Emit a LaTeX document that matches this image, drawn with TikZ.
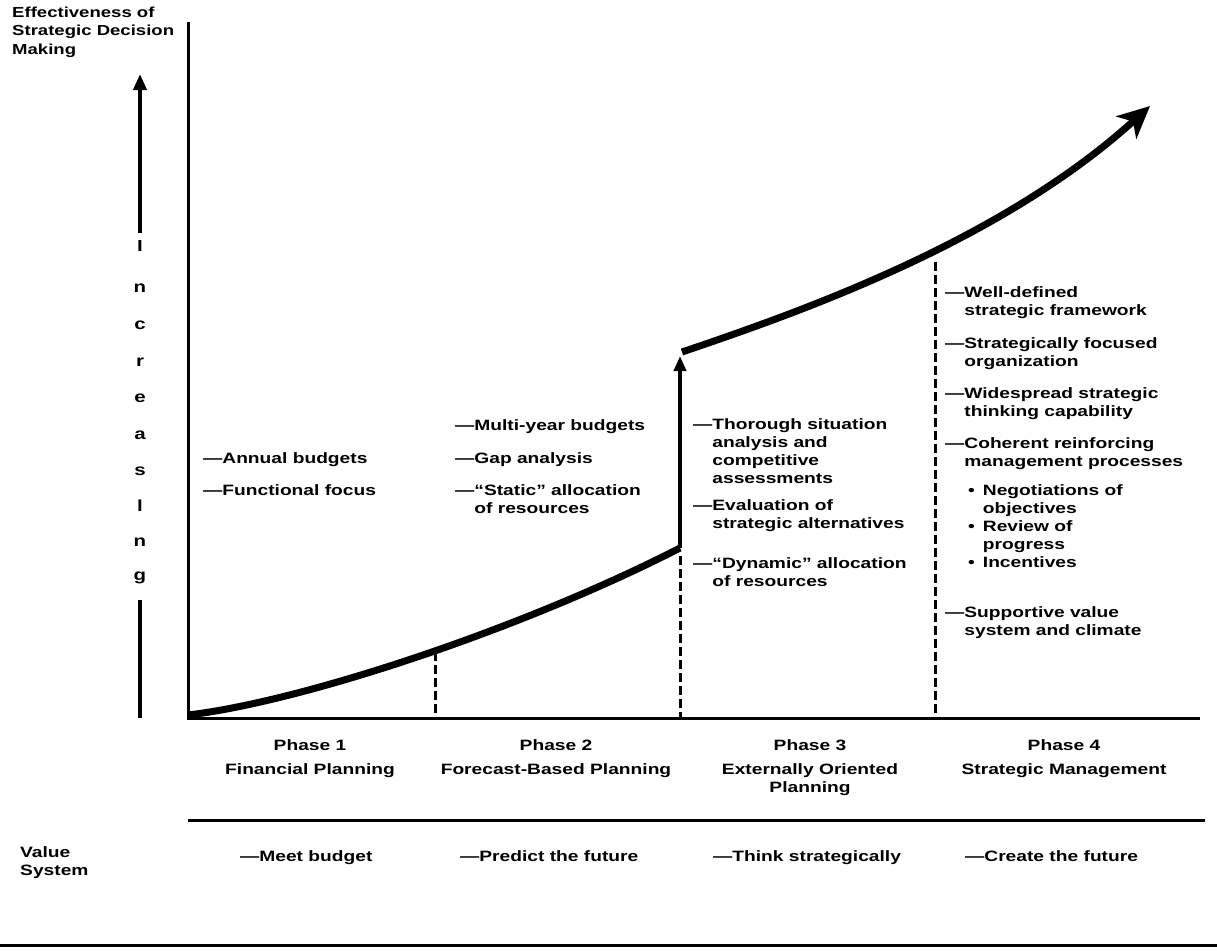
\documentclass[tikz,border=0pt]{standalone}
\usepackage{fontspec}
\setmainfont{Liberation Sans}[FakeStretch=1.28]
\usetikzlibrary{arrows.meta}
\begin{document}
\begin{tikzpicture}[x=1pt,y=-1pt,
  fnt/.style={font=\fontsize{15}{18}\selectfont\bfseries},
  lbl/.style={fnt,anchor=base west,inner sep=0},
  ctr/.style={fnt,anchor=base,inner sep=0},
  axis/.style={line width=3pt},
  rule/.style={line width=3pt},
  divider/.style={line width=3pt,dash pattern=on 9pt off 4pt},
  growth/.style={line width=7pt},
  letter/.style={font=\fontsize{16}{18}\selectfont\bfseries,anchor=center,inner sep=0}]
\useasboundingbox (0,0) rectangle (1217,951);
\fill[white] (0,0) rectangle (1217,951);

% y-axis label
\node[lbl] (ylab) at (12,17) {\fontsize{14.5}{18.5}\selectfont\begin{tabular}[t]{@{}l@{}}Effectiveness of\\Strategic Decision\\Making\end{tabular}};

% axes
\coordinate (O) at (188,718);
\coordinate (Ytop) at (188,22);
\coordinate (Xend) at (1200,718);
\draw[axis] (Ytop) -- (O) -- (Xend);

% "Increasing" arrow
\coordinate (Ia) at (140,233);
\coordinate (Ib) at (140,74);
\draw[line width=4.5pt,-{Triangle[length=16pt,width=13pt]}] (Ia) -- (Ib);
\foreach \c/\yy in {I/246,n/288,c/325,r/362,e/398,a/435,s/471,l/506,n/542,g/578}
  \node[letter] at (140,\yy) {\c};
\coordinate (Ic) at (140,600);
\coordinate (Id) at (140,718);
\draw[line width=4.5pt] (Ic) -- (Id);

% growth curve
\coordinate (G0) at (188,715);
\coordinate (J1) at (680,548);
\coordinate (J2) at (680,356);
\coordinate (G2) at (682,352);
\coordinate (Gend) at (1150,106);
\draw[growth] (G0) .. controls (300,702) and (520,630) .. (J1);
\draw[line width=4pt,-{Triangle[length=15pt,width=12pt]}] (J1) -- (J2);
\draw[growth,-{Stealth[length=32pt,width=30pt,inset=9pt]}] (G2) .. controls (800,312) and (1000,242) .. (Gend);

% phase dividers
\coordinate (D1) at (435,652);
\coordinate (D1b) at (435,718);
\coordinate (D2) at (680,556);
\coordinate (D2b) at (680,718);
\coordinate (D3) at (935,262);
\coordinate (D3b) at (935,718);
\draw[divider] (D1) -- (D1b);
\draw[divider] (D2) -- (D2b);
\draw[divider] (D3) -- (D3b);

% phase 1
\node[lbl] (p1a) at (203,463) {—Annual budgets};
\node[lbl] (p1b) at (203,495) {—Functional focus};
% phase 2
\node[lbl] (p2a) at (455,430) {—Multi-year budgets};
\node[lbl] (p2b) at (455,463) {—Gap analysis};
\node[lbl] (p2c) at (455,495) {\begin{tabular}[t]{@{}l@{}l@{}}—&``Static'' allocation\\&of resources\end{tabular}};
% phase 3
\node[lbl] (p3a) at (693,429) {\begin{tabular}[t]{@{}l@{}l@{}}—&Thorough situation\\&analysis and\\&competitive\\&assessments\end{tabular}};
\node[lbl] (p3b) at (693,510) {\begin{tabular}[t]{@{}l@{}l@{}}—&Evaluation of\\&strategic alternatives\end{tabular}};
\node[lbl] (p3c) at (693,568) {\begin{tabular}[t]{@{}l@{}l@{}}—&``Dynamic'' allocation\\&of resources\end{tabular}};
% phase 4
\node[lbl] (p4a) at (945,297) {\begin{tabular}[t]{@{}l@{}l@{}}—&Well-defined\\&strategic framework\end{tabular}};
\node[lbl] (p4b) at (945,348) {\begin{tabular}[t]{@{}l@{}l@{}}—&Strategically focused\\&organization\end{tabular}};
\node[lbl] (p4c) at (945,398) {\begin{tabular}[t]{@{}l@{}l@{}}—&Widespread strategic\\&thinking capability\end{tabular}};
\node[lbl] (p4d) at (945,448) {\begin{tabular}[t]{@{}l@{}l@{}}—&Coherent reinforcing\\&management processes\end{tabular}};
\node[lbl] (p4e) at (968,495) {\begin{tabular}[t]{@{}l@{\hspace{8pt}}l@{}}\textbullet&Negotiations of\\&objectives\\\textbullet&Review of\\&progress\\\textbullet&Incentives\end{tabular}};
\node[lbl] (p4f) at (945,617) {\begin{tabular}[t]{@{}l@{}l@{}}—&Supportive value\\&system and climate\end{tabular}};

% phase labels
\node[ctr] (ph1) at (310,750) {\begin{tabular}[t]{@{}c@{}}Phase 1\\[6pt]Financial Planning\end{tabular}};
\node[ctr] (ph2) at (556,750) {\begin{tabular}[t]{@{}c@{}}Phase 2\\[6pt]Forecast-Based Planning\end{tabular}};
\node[ctr] (ph3) at (810,750) {\begin{tabular}[t]{@{}c@{}}Phase 3\\[6pt]Externally Oriented\\Planning\end{tabular}};
\node[ctr] (ph4) at (1064,750) {\begin{tabular}[t]{@{}c@{}}Phase 4\\[6pt]Strategic Management\end{tabular}};

% rules
\coordinate (R1a) at (188,820);
\coordinate (R1b) at (1205,820);
\draw[rule] (R1a) -- (R1b);
\coordinate (R2a) at (0,945);
\coordinate (R2b) at (1217,945);
\draw[rule] (R2a) -- (R2b);

% value system
\node[lbl] (vs) at (20,857) {\begin{tabular}[t]{@{}l@{}}Value\\System\end{tabular}};
\node[lbl] (v1) at (240,861) {—Meet budget};
\node[lbl] (v2) at (460,861) {—Predict the future};
\node[lbl] (v3) at (713,861) {—Think strategically};
\node[lbl] (v4) at (965,861) {—Create the future};
\end{tikzpicture}
\end{document}
